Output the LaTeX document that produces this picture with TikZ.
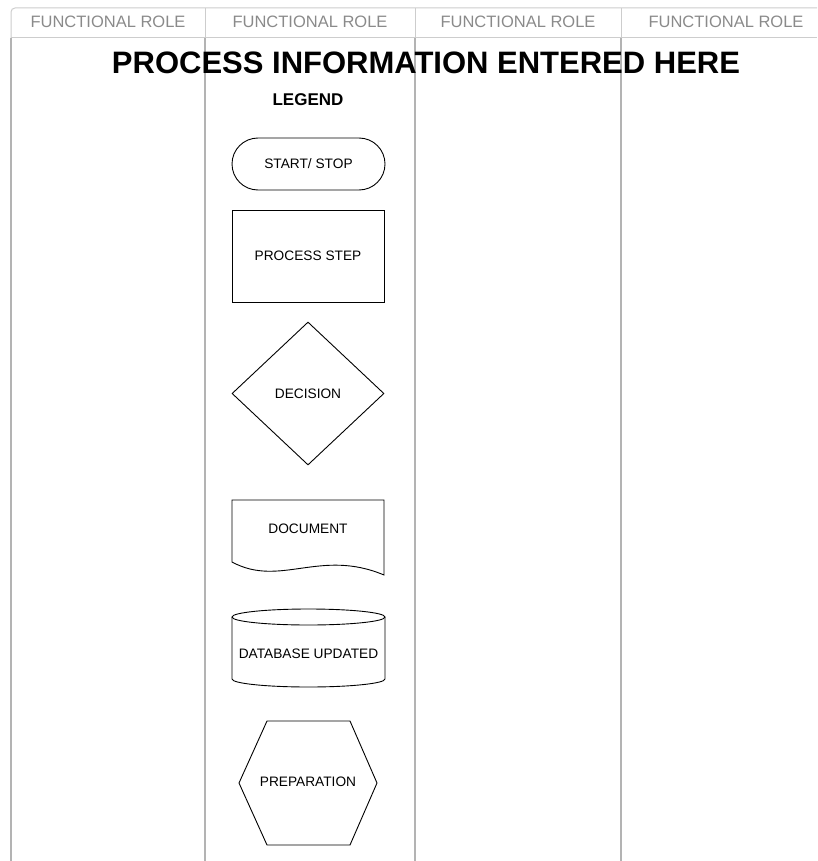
\documentclass[tikz,border=0pt]{standalone}
\usepackage{fontspec}
\setmainfont{Liberation Sans}
\usetikzlibrary{shapes}
\definecolor{lanegray}{HTML}{B3B3B3}
\definecolor{headgray}{HTML}{CDCDCD}
\definecolor{headtext}{HTML}{8A8A8A}
\tikzstyle{lanehead} = [text=headtext, inner sep=0pt,
    font=\fontsize{16.5}{18}\selectfont]
\tikzstyle{symline} = [draw, line width=0.9pt]
\tikzstyle{symtext} = [inner sep=0pt, font=\fontsize{13.7}{15}\selectfont]
\tikzstyle{terminal} = [symline, symtext, rounded rectangle,
    minimum width=153pt, minimum height=52pt]
\tikzstyle{block} = [symline, symtext, rectangle,
    minimum width=152pt, minimum height=92pt]
\tikzstyle{decision} = [symline, symtext, diamond,
    minimum width=152pt, minimum height=143pt]

\begin{document}
\begin{tikzpicture}[x=1pt,y=-1pt]
\useasboundingbox (0,0) rectangle (817,861);

% swim lanes
\draw[headgray, line width=1pt, rounded corners=4pt] (11,38) -- (11,8) -- (817,8);
\draw[headgray, line width=1pt] (11,38) -- (817,38);
\foreach \x in {205,415,621}
  \draw[headgray, line width=1pt] (\x,8) -- (\x,38);
\foreach \x in {11,205,415,621}
  \draw[lanegray, line width=1.6pt] (\x,38) -- (\x,861);

\foreach \x/\n in {108/role1,310/role2,518/role3,726/role4}
  \node[lanehead, name=\n] at (\x,22) {FUNCTIONAL ROLE};

\node[inner sep=0pt, font=\bfseries\fontsize{31}{33}\selectfont, name=title]
  at (426,63) {PROCESS INFORMATION ENTERED HERE};
\node[inner sep=0pt, font=\bfseries\fontsize{17}{19}\selectfont, name=legend]
  at (308,100) {LEGEND};

% legend symbols
\node[terminal, name=start] at (308.5,164) {START/ STOP};
\node[block, name=step] at (308,256) {PROCESS STEP};
\node[decision, name=decide] at (308,393.5) {DECISION};

\draw[symline] (232,500) -- (384,500) -- (384,575)
  .. controls (320,548) and (280,588) .. (232,562) -- cycle;
\node[symtext, name=doc] at (308,529) {DOCUMENT};

\draw[symline] (308.5,617) ellipse [x radius=76.5, y radius=8];
\draw[symline] (232,617) -- (232,679)
  arc[start angle=180, end angle=0, x radius=76.5, y radius=8] -- (385,617);
\node[symtext, name=dbase] at (308.5,654) {DATABASE UPDATED};

\draw[symline] (267,721) -- (350,721) -- (377,783) -- (350,845)
  -- (267,845) -- (239,783) -- cycle;
\node[symtext, name=prep] at (308,782) {PREPARATION};
\end{tikzpicture}
\end{document}
